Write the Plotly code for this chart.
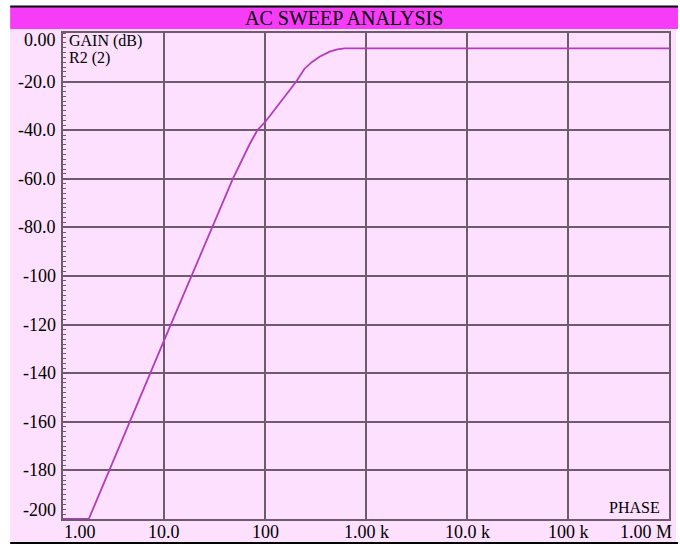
import plotly.graph_objects as go
import math

# ---- data ----
freq_hz = [1.0, 1.8, 10.0, 20.0, 48.0, 70.0, 84.0, 100.0, 150.0, 204.0, 245.0, 290.0, 347.0, 437.0, 520.0, 615.0, 1.0e6]
gain_db = [-200.0, -200.0, -126.6, -97.0, -60.0, -46.0, -40.0, -36.7, -27.0, -20.0, -14.8, -12.0, -9.8, -7.7, -6.7, -6.3, -6.3]

x_tick_vals = [1, 10, 100, 1e3, 1e4, 1e5, 1e6]
x_tick_text = ["1.00", "10.0", "100", "1.00 k", "10.0 k", "100 k", "1.00 M"]
y_tick_vals = [0, -20, -40, -60, -80, -100, -120, -140, -160, -180, -200]
y_tick_text = ["0.00", "-20.0", "-40.0", "-60.0", "-80.0", "-100", "-120", "-140", "-160", "-180", "-200"]

title_text = "AC SWEEP ANALYSIS"
trace_label = ["GAIN (dB)", "R2 (2)"]
corner_label = "PHASE"

# ---- styling ----
W, H = 680, 546
L, R, T, B = 63, 9, 33, 27
PW, PH = W - L - R, H - T - B
PINK = "#fde0fd"
MAGENTA = "#f73cf7"
GRID = "#6e5c6e"
CURVE = "#b33cbc"
FONT = "Liberation Serif, Times New Roman, serif"

def px(xp):
    return (xp - L) / PW

def py(yp):
    return (H - B - yp) / PH

fig = go.Figure()
fig.add_trace(go.Scatter(x=freq_hz, y=gain_db, mode="lines",
                         line=dict(color=CURVE, width=1.8),
                         showlegend=False, cliponaxis=True))

shapes = [
    dict(type="rect", xref="paper", yref="paper", x0=px(10), x1=px(678), y0=py(543), y1=py(29),
         fillcolor=PINK, line=dict(width=0), layer="below"),
    dict(type="rect", xref="paper", yref="paper", x0=px(10), x1=px(680), y0=py(29), y1=py(7),
         fillcolor=MAGENTA, line=dict(width=0), layer="above"),
    dict(type="line", xref="paper", yref="paper", x0=px(10), x1=px(680), y0=py(6.5), y1=py(6.5),
         line=dict(color="black", width=2)),
    dict(type="line", xref="paper", yref="paper", x0=px(10), x1=px(680), y0=py(543), y1=py(543),
         line=dict(color="black", width=2)),
]

ann = []
ann.append(dict(text=title_text, xref="paper", yref="paper", x=px(345), y=py(18),
                xanchor="center", yanchor="middle", showarrow=False,
                font=dict(family=FONT, size=20, color="black")))
for v, t in zip(y_tick_vals, y_tick_text):
    shift = 0
    if v == 0:
        shift = -7
    elif v == -200:
        shift = 9
    ann.append(dict(text=t, xref="paper", yref="y", x=px(58), y=v, yshift=shift,
                    xanchor="right", yanchor="middle", showarrow=False,
                    font=dict(family=FONT, size=18, color="black")))
for v, t in zip(x_tick_vals, x_tick_text):
    xa, xs = "center", 0
    if v == x_tick_vals[0]:
        xa, xs = "left", -1
    elif v == x_tick_vals[-1]:
        xa, xs = "right", 5
    ann.append(dict(text=t, xref="x", yref="paper", x=math.log10(v), y=py(532), xshift=xs,
                    xanchor=xa, yanchor="middle", showarrow=False,
                    font=dict(family=FONT, size=18, color="black")))
ann.append(dict(text=trace_label[0], xref="paper", yref="paper", x=px(67), y=py(41),
                xanchor="left", yanchor="middle", showarrow=False,
                font=dict(family=FONT, size=16, color="black")))
ann.append(dict(text=trace_label[1], xref="paper", yref="paper", x=px(67), y=py(58),
                xanchor="left", yanchor="middle", showarrow=False,
                font=dict(family=FONT, size=16, color="black")))
ann.append(dict(text=corner_label, xref="paper", yref="paper", x=px(664), y=py(507),
                xanchor="right", yanchor="middle", showarrow=False,
                font=dict(family=FONT, size=16, color="black")))

fig.update_layout(
    width=W, height=H,
    margin=dict(l=L, r=R, t=T, b=B, pad=0),
    paper_bgcolor="white",
    plot_bgcolor=PINK,
    shapes=shapes,
    annotations=ann,
    xaxis=dict(type="log", range=[0, 6], tickvals=x_tick_vals, showticklabels=False,
               showgrid=True, gridcolor=GRID, gridwidth=1.5, zeroline=False,
               showline=True, mirror=True, linecolor=GRID, linewidth=1.5, ticks=""),
    yaxis=dict(range=[-200, 0], tickvals=y_tick_vals, showticklabels=False,
               showgrid=True, gridcolor=GRID, gridwidth=1.5, zeroline=False,
               showline=True, mirror=True, linecolor=GRID, linewidth=1.5, ticks="",
               minor=dict(dtick=2, ticks="inside", ticklen=3, tickcolor=GRID,
                          tickwidth=1, showgrid=False)),
)

fig.write_html("out.html", config={"displayModeBar": False},
               post_script="document.body.style.margin='0';document.body.style.padding='0';")
